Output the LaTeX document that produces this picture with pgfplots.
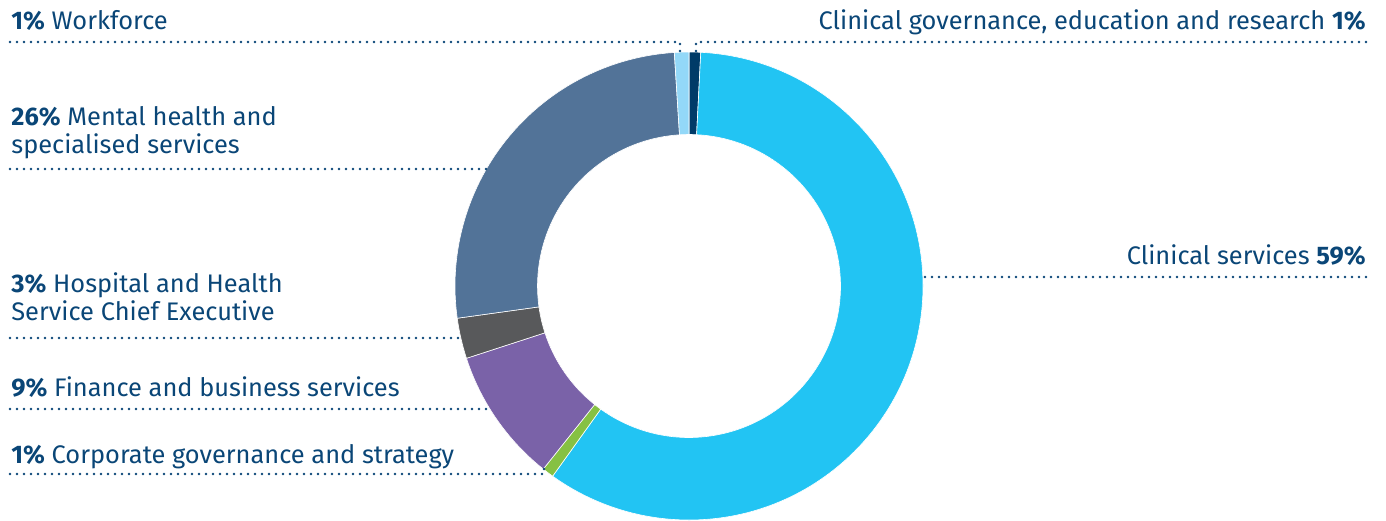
\documentclass[border=0pt]{standalone}
\usepackage{fontspec}
\setmainfont{Fira Sans}
\usepackage{pgfplots}
\usepackage{pgfplotstable}
\pgfplotsset{compat=1.18}

\definecolor{slice0}{HTML}{003B68}
\definecolor{slice1}{HTML}{22C4F3}
\definecolor{slice2}{HTML}{86C143}
\definecolor{slice3}{HTML}{7A62A8}
\definecolor{slice4}{HTML}{58595B}
\definecolor{slice5}{HTML}{527398}
\definecolor{slice6}{HTML}{93D8F8}
\definecolor{txt}{HTML}{0A4677}

% shares in percent, clockwise from 12 o'clock
\pgfplotstableread[col sep=comma]{
name,value
Clinical governance education and research,0.8
Clinical services,59.1
Corporate governance and strategy,0.8
Finance and business services,9.3
Hospital and Health Service Chief Executive,2.8
Mental health and specialised services,26.2
Workforce,1.0
}\slices

\xdef\cum{90}
\pgfplotstableforeachcolumnelement{value}\of\slices\as\v{%
  \pgfmathsetmacro\e{\cum-3.6*\v}%
  \expandafter\xdef\csname sa\pgfplotstablerow\endcsname{\cum}%
  \expandafter\xdef\csname sb\pgfplotstablerow\endcsname{\e}%
  \xdef\cum{\e}%
}

\begin{document}
\begin{tikzpicture}[
  lead/.style={txt, line width=1.3pt, line cap=round, dash pattern=on 0pt off 3.5pt},
  lab/.style={inner sep=0pt, text=txt, font=\fontsize{12.7}{14}\selectfont}]
\path[use as bounding box, clip] (0,0) rectangle (693pt,260pt);
\begin{axis}[at={(0,0)}, anchor=south west, scale only axis,
  width=693pt, height=260pt, xmin=0, xmax=1386, ymin=0, ymax=520,
  y dir=reverse, hide axis, clip=false]
\pgfplotsinvokeforeach{0,...,6}{
  \fill[slice#1, draw=white, line width=0.3pt]
    (axis cs:689,286) ++(\csname sa#1\endcsname:117pt)
    arc[start angle=\csname sa#1\endcsname, end angle=\csname sb#1\endcsname, radius=117pt]
    -- ([shift={(\csname sb#1\endcsname:75.75pt)}]axis cs:689,286)
    arc[start angle=\csname sb#1\endcsname, end angle=\csname sa#1\endcsname, radius=75.75pt]
    -- cycle;
}
% leader lines
\draw[lead] (axis cs:10,42) -- (axis cs:680,42) -- (axis cs:680,52);
\draw[lead] (axis cs:1366,42) -- (axis cs:696,42) -- (axis cs:696,53);
\draw[lead] (axis cs:10,169) -- (axis cs:487,169);
\draw[lead] (axis cs:10,338) -- (axis cs:462,338);
\draw[lead] (axis cs:10,409) -- (axis cs:490,409);
\draw[lead] (axis cs:10,474) -- (axis cs:544,474) -- (axis cs:544,468);
\draw[lead] (axis cs:925,277) -- (axis cs:1367,277);
% labels
\node[lab, anchor=base west] at (axis cs:11,29) {\textbf{1\%} Workforce};
\node[lab, anchor=base east] at (axis cs:1366,29) {Clinical governance, education and research \textbf{1\%}};
\node[lab, anchor=base west] at (axis cs:11,125) {\textbf{26\%} Mental health and};
\node[lab, anchor=base west] at (axis cs:11,153) {specialised services};
\node[lab, anchor=base east] at (axis cs:1366,264) {Clinical services \textbf{59\%}};
\node[lab, anchor=base west] at (axis cs:11,292) {\textbf{3\%} Hospital and Health};
\node[lab, anchor=base west] at (axis cs:11,320) {Service Chief Executive};
\node[lab, anchor=base west] at (axis cs:11,396) {\textbf{9\%} Finance and business services};
\node[lab, anchor=base west] at (axis cs:11,463) {\textbf{1\%} Corporate governance and strategy};
\end{axis}
\end{tikzpicture}
\end{document}
